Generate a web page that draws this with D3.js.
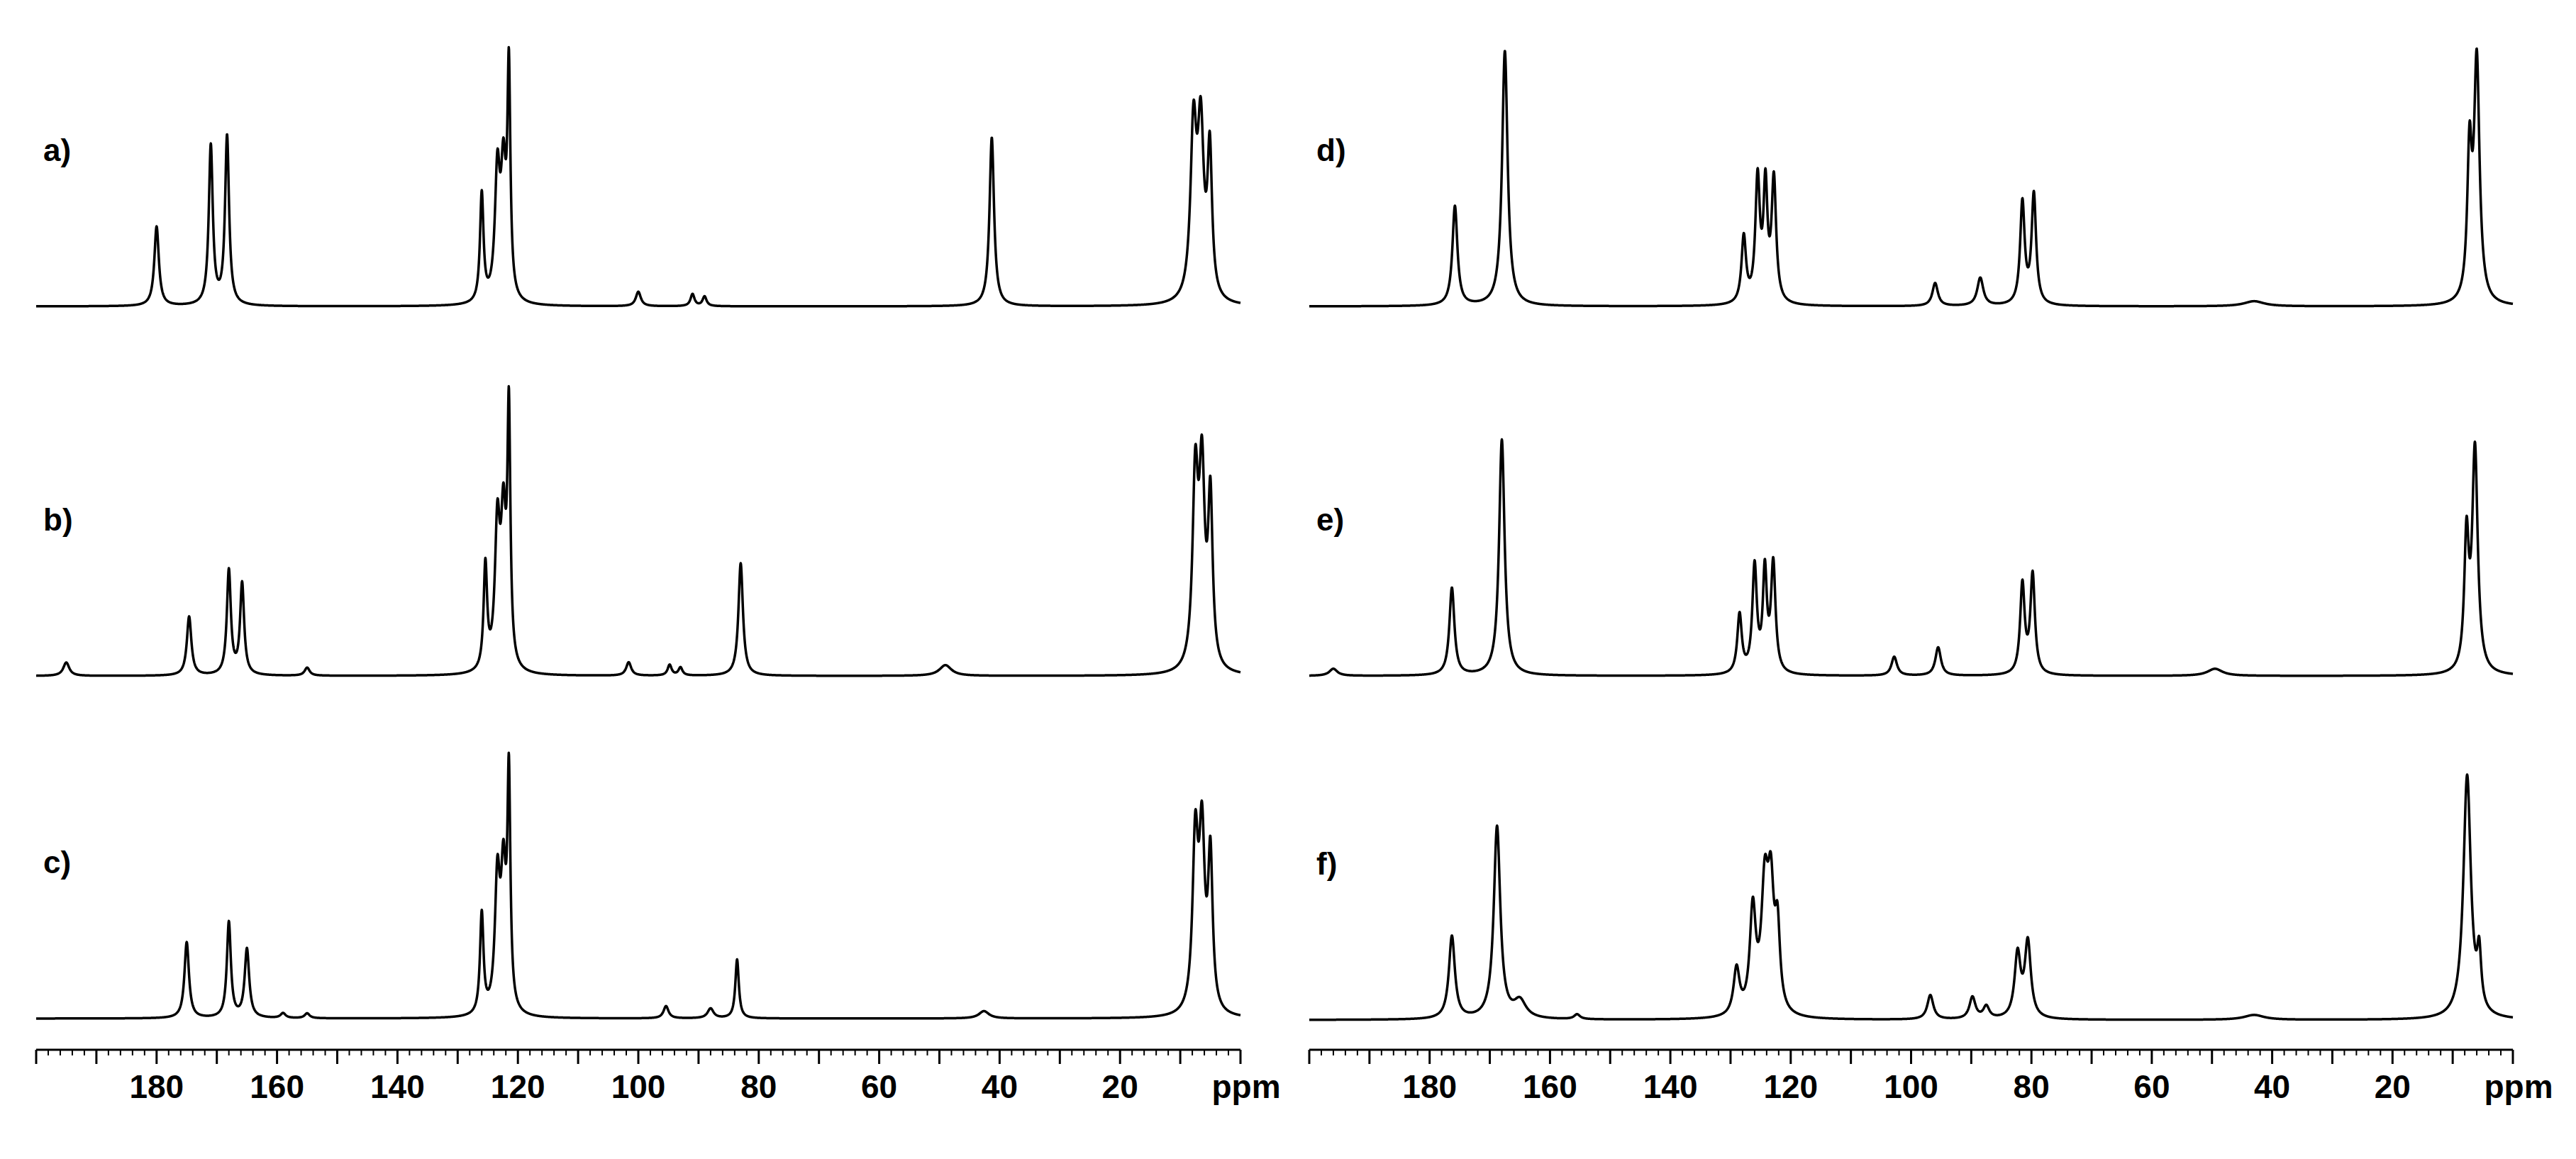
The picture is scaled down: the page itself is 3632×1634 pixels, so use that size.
<!DOCTYPE html>
<html><head><meta charset="utf-8">
<script src="https://cdn.jsdelivr.net/npm/d3@7"></script>
<style>body{margin:0;background:#fff}</style></head>
<body><svg id="c" width="3632" height="1634"></svg>
<script>
// Peak lists: [ppm, relative height, half-width (ppm)]
const peaksA = [[180,0.33,0.45],[171,0.66,0.4],[168.3,0.70,0.4],[126,0.45,0.35],[123.4,0.52,0.5],[122.4,0.50,0.5],[121.5,0.92,0.3],[100,0.06,0.5],[91,0.05,0.4],[89,0.04,0.4],[41.3,0.70,0.45],[7.8,0.70,0.6],[6.6,0.68,0.6],[5.1,0.60,0.45]];
const peaksB = [[195,0.05,0.6],[174.6,0.22,0.45],[168,0.39,0.4],[165.8,0.34,0.4],[155,0.03,0.5],[125.4,0.39,0.35],[123.4,0.52,0.5],[122.4,0.52,0.5],[121.5,0.92,0.3],[101.6,0.05,0.5],[94.8,0.04,0.4],[93,0.03,0.4],[83,0.42,0.45],[49,0.04,1.2],[7.5,0.70,0.55],[6.4,0.70,0.55],[5.0,0.62,0.45]];
const peaksC = [[175,0.31,0.45],[168,0.39,0.4],[165,0.28,0.45],[159,0.02,0.5],[155,0.02,0.5],[126,0.41,0.35],[123.4,0.53,0.5],[122.4,0.53,0.5],[121.5,0.92,0.3],[95.4,0.05,0.5],[88,0.04,0.6],[83.6,0.24,0.35],[42.6,0.03,1.0],[7.5,0.69,0.55],[6.4,0.69,0.55],[5.0,0.62,0.45]];
const peaksD = [[175.8,0.39,0.5],[167.5,1.0,0.55],[127.8,0.26,0.45],[125.5,0.48,0.45],[124.2,0.44,0.4],[122.8,0.48,0.45],[96,0.09,0.55],[88.5,0.11,0.6],[81.5,0.40,0.45],[79.6,0.43,0.45],[43,0.02,2],[7.2,0.56,0.45],[6,0.94,0.55]];
const peaksE = [[196,0.03,0.8],[176.3,0.37,0.5],[168,1.0,0.55],[128.5,0.25,0.45],[126,0.45,0.45],[124.3,0.42,0.4],[122.9,0.46,0.45],[102.8,0.08,0.55],[95.5,0.12,0.55],[81.5,0.38,0.45],[79.8,0.42,0.45],[49.5,0.03,1.5],[7.7,0.55,0.45],[6.3,0.94,0.55]];
const peaksF = [[176.3,0.34,0.6],[168.8,0.79,0.65],[165,0.07,1.2],[155.5,0.02,0.6],[129,0.19,0.6],[126.3,0.42,0.6],[124.3,0.50,0.7],[123.3,0.45,0.6],[122.2,0.32,0.5],[96.8,0.10,0.6],[89.8,0.09,0.6],[87.5,0.05,0.6],[82.3,0.26,0.6],[80.6,0.31,0.6],[43,0.02,2],[7.6,1.0,0.75],[5.6,0.22,0.4]];
const labels = ["a)","b)","c)","d)","e)","f)"];
const tickLabels = [180,160,140,120,100,80,60,40,20];

const svg = d3.select("#c");
const panels = [
  {p:peaksA,l:0,base:432,H:340},{p:peaksB,l:0,base:953,H:378},{p:peaksC,l:0,base:1436,H:346},
  {p:peaksD,l:1,base:432,H:360},{p:peaksE,l:1,base:953,H:333},{p:peaksF,l:1,base:1438,H:343}];
const xs = [d3.scaleLinear().domain([200,0]).range([51,1749]), d3.scaleLinear().domain([200,0]).range([1846,3543])];
const grid = d3.range(200,-0.001,-0.04);
const spec = (pk,x)=>pk.reduce((s,[c,h,w])=>s+h/(1+((x-c)/w)**2),0);

panels.forEach((P,i)=>{
  const x = xs[P.l];
  const y = d3.scaleLinear().domain([0,1]).range([P.base,P.base-P.H]);
  const line = d3.line().x(d=>x(d)).y(d=>y(spec(P.p,d)));
  svg.append("path").attr("d",line(grid)).attr("fill","none").attr("stroke","#000").attr("stroke-width",3.5).attr("stroke-linejoin","round");
  svg.append("text").attr("x",x(200)+10).attr("y",P.base-205).text(labels[i])
    .attr("font-family","Liberation Sans, Arial").attr("font-weight","bold").attr("font-size",44);
});

xs.forEach(x=>{
  const g = svg.append("g").attr("transform","translate(0,1480)");
  g.append("line").attr("x1",x(200)).attr("x2",x(0)).attr("stroke","#000").attr("stroke-width",3);
  g.selectAll(".mi").data(d3.range(0,201,2)).enter().append("line")
    .attr("x1",d=>x(d)).attr("x2",d=>x(d)).attr("y1",0).attr("y2",d=>d%10===0?20:8)
    .attr("stroke","#000").attr("stroke-width",d=>d%10===0?3:2);
  g.selectAll(".tl").data(tickLabels).enter().append("text")
    .attr("x",d=>x(d)).attr("y",68).attr("text-anchor","middle").text(d=>d)
    .attr("font-family","Liberation Sans, Arial").attr("font-weight","bold").attr("font-size",46);
  g.append("text").attr("x",x(0)+8).attr("y",68).attr("text-anchor","middle").text("ppm")
    .attr("font-family","Liberation Sans, Arial").attr("font-weight","bold").attr("font-size",46);
});
</script></body></html>
